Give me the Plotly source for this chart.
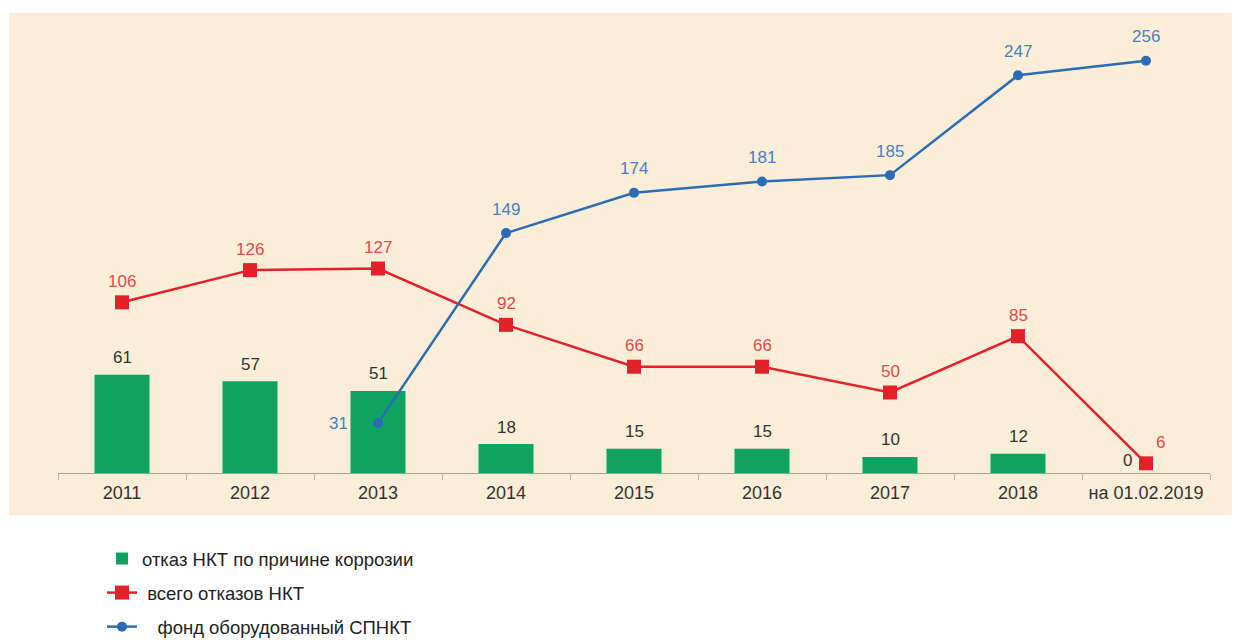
import plotly.graph_objects as go

categories = ["2011", "2012", "2013", "2014", "2015", "2016", "2017", "2018", "на 01.02.2019"]
corrosion = [61, 57, 51, 18, 15, 15, 10, 12, 0]
total_failures = [106, 126, 127, 92, 66, 66, 50, 85, 6]
fund_cats = ["2013", "2014", "2015", "2016", "2017", "2018", "на 01.02.2019"]
fund = [31, 149, 174, 181, 185, 247, 256]

GREEN = "#0fa362"
RED = "#e5202a"
BLUE = "#2b6cb5"
BEIGE = "#fbeed8"
FONT = "Liberation Sans, Arial, sans-serif"

fig = go.Figure()
fig.add_trace(go.Bar(
    x=categories, y=corrosion, name="отказ НКТ по причине коррозии",
    marker=dict(color=GREEN, line=dict(width=0)), legendgroup="a",
))
fig.add_trace(go.Scatter(
    x=categories, y=total_failures, name=" всего отказов НКТ", mode="lines+markers",
    line=dict(color=RED, width=2.5), marker=dict(symbol="square", size=14, color=RED),
    legendgroup="b",
))
fig.add_trace(go.Scatter(
    x=fund_cats, y=fund, name="   фонд оборудованный СПНКТ", mode="lines+markers",
    line=dict(color=BLUE, width=2.5), marker=dict(symbol="circle", size=10, color=BLUE),
    legendgroup="c",
))

def idx(c):
    return categories.index(c)

LBL = 17
annotations = []
for c, v in zip(categories, corrosion):
    xs = -19 if v == 0 else 0
    annotations.append(dict(x=idx(c), y=v, text=str(v), showarrow=False, yshift=17 if v else 13,
                            xshift=xs, font=dict(size=LBL, color="#333333", family=FONT)))
for c, v in zip(categories, total_failures):
    if c == "на 01.02.2019":
        annotations.append(dict(x=idx(c), y=v, text=str(v), showarrow=False, yshift=21, xshift=14,
                                font=dict(size=LBL, color="#e04a4a", family=FONT)))
    else:
        annotations.append(dict(x=idx(c), y=v, text=str(v), showarrow=False, yshift=21,
                                font=dict(size=LBL, color="#e04a4a", family=FONT)))
for c, v in zip(fund_cats, fund):
    if c == "2013":
        annotations.append(dict(x=idx(c), y=v, text=str(v), showarrow=False, xshift=-40, yshift=0,
                                font=dict(size=LBL, color="#4a7fbf", family=FONT)))
    else:
        annotations.append(dict(x=idx(c), y=v, text=str(v), showarrow=False, yshift=24,
                                font=dict(size=LBL, color="#4a7fbf", family=FONT)))

fig.update_layout(
    width=1248, height=640,
    margin=dict(l=58, r=38, t=13, b=167, autoexpand=False),
    paper_bgcolor="white", plot_bgcolor="rgba(0,0,0,0)",
    bargap=0.57,
    font=dict(family=FONT, color="#333333"),
    showlegend=True,
    legend=dict(xref="container", yref="container", x=102 / 1248, y=1 - 540 / 640,
                xanchor="left", yanchor="top", orientation="v",
                font=dict(size=18.5, color="#222222", family=FONT), tracegroupgap=7,
                bgcolor="rgba(0,0,0,0)"),
    annotations=annotations,
    shapes=[dict(type="rect", xref="paper", yref="paper", x0=-0.0425, x1=1.019,
                 y0=-0.0913, y1=1.0, fillcolor=BEIGE, line=dict(width=0), layer="below")],
)
fig.update_xaxes(type="category", categoryorder="array", categoryarray=categories,
                 range=[-0.5, len(categories) - 0.5],
                 showline=True, linecolor="#a0a0a0", linewidth=1,
                 ticks="outside", tickson="boundaries", ticklen=6, tickcolor="#b0b0b0",
                 ticklabelstandoff=3,
                 tickfont=dict(size=18, color="#333333", family=FONT), showgrid=False)
fig.update_yaxes(range=[0, 285.7], visible=False, showgrid=False, zeroline=False)

fig.write_html("out.html")
